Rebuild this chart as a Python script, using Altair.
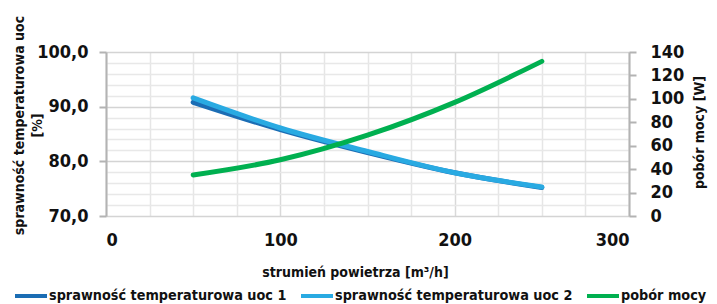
import altair as alt
import pandas as pd

# Data
flow = [50, 100, 150, 200, 250]
uoc1 = [90.8, 85.8, 81.6, 77.9, 75.2]
uoc2 = [91.6, 86.1, 81.8, 77.9, 75.3]
power = [35, 48, 69, 97, 132]

names = ["sprawność temperaturowa uoc 1", "sprawność temperaturowa uoc 2", "pobór mocy"]
colors = ["#1b6db4", "#29aae2", "#00b050"]

x_grid = list(range(0, 301, 25))
y_left_vals = list(range(70, 101, 2))
y_right_vals = list(range(0, 141, 20))

eff_df = pd.DataFrame({
    "x": flow + flow,
    "value": uoc1 + uoc2,
    "series": [names[0]] * len(flow) + [names[1]] * len(flow),
})
pow_df = pd.DataFrame({"x": flow, "value": power, "series": [names[2]] * len(flow)})

FONT = "DejaVu Sans Condensed"

color = alt.Color(
    "series:N",
    scale=alt.Scale(domain=names, range=colors),
    legend=alt.Legend(
        title=None,
        orient="none",
        direction="horizontal",
        legendX=-93,
        legendY=226,
        symbolType="stroke",
        symbolSize=1024,
        symbolStrokeWidth=4,
        labelFont=FONT,
        labelFontSize=14.3,
        labelFontWeight="bold",
        labelColor="#111111",
        labelLimit=400,
        labelOffset=0,
        columnPadding=6,
    ),
)

x_enc = alt.X(
    "x:Q",
    scale=alt.Scale(domain=[0, 300], nice=False),
    axis=alt.Axis(
        values=x_grid,
        labelExpr="datum.value % 100 === 0 ? datum.label : ''",
        title="strumień powietrza [m³/h]",
        titleX=249,
        titleY=56,
        titleBaseline="middle",
        ticks=False,
        domain=False,
        labelPadding=15,
        gridColor={"condition": {"test": "datum.value % 100 === 0", "value": "#d9d9d9"}, "value": "#e6e6e6"},
        gridWidth=1.5,
    ),
)

eff = alt.Chart(eff_df).mark_line(interpolate="monotone", strokeWidth=5, strokeCap="round").encode(
    x=x_enc,
    y=alt.Y(
        "value:Q",
        scale=alt.Scale(domain=[70, 100], nice=False),
        axis=alt.Axis(
            orient="left",
            values=y_left_vals,
            labelExpr="datum.value % 10 === 0 ? replace(format(datum.value, '.1f'), '.', ',') : ''",
            title=["sprawność temperaturowa uoc", "[%]"],
            titleAngle=-90,
            titleX=-94,
            titleY=73,
            titleAlign="center",
            titleBaseline="top",
            titleLineHeight=18,
            tickSize=7,
            tickOpacity={"condition": {"test": "datum.value % 10 === 0", "value": 1}, "value": 0},
            labelPadding=11,
            gridColor={"condition": {"test": "datum.value % 10 === 0", "value": "#d4d4d4"}, "value": "#e8e8e8"},
            gridWidth=1.5,
        ),
    ),
    color=color,
)

pw = alt.Chart(pow_df).mark_line(interpolate="monotone", strokeWidth=5, strokeCap="round").encode(
    x=x_enc,
    y=alt.Y(
        "value:Q",
        scale=alt.Scale(domain=[0, 140], nice=False),
        axis=alt.Axis(
            orient="right",
            values=y_right_vals,
            grid=False,
            title="pobór mocy [W]",
            titleAngle=-90,
            titleX=70,
            titleY=80,
            titleAlign="center",
            titleBaseline="middle",
            tickSize=7,
            labelPadding=14,
        ),
    ),
    color=color,
)

chart = (
    alt.layer(eff, pw)
    .resolve_scale(y="independent")
    .properties(
        width=523,
        height=164,
        autosize=alt.AutoSizeParams(type="none"),
        padding={"left": 98, "top": 44, "right": 80, "bottom": 88},
    )
    .configure_view(stroke=None)
    .configure_axis(
        labelFont=FONT,
        labelFontSize=18,
        labelFontWeight="bold",
        labelColor="#111111",
        titleFont=FONT,
        titleFontSize=14,
        titleFontWeight="bold",
        titleColor="#111111",
        domainColor="#b3b3b3",
        domainWidth=2,
        tickColor="#b3b3b3",
        tickWidth=2,
    )
)

chart.save("out.html", embed_options={"renderer": "svg", "actions": False})
